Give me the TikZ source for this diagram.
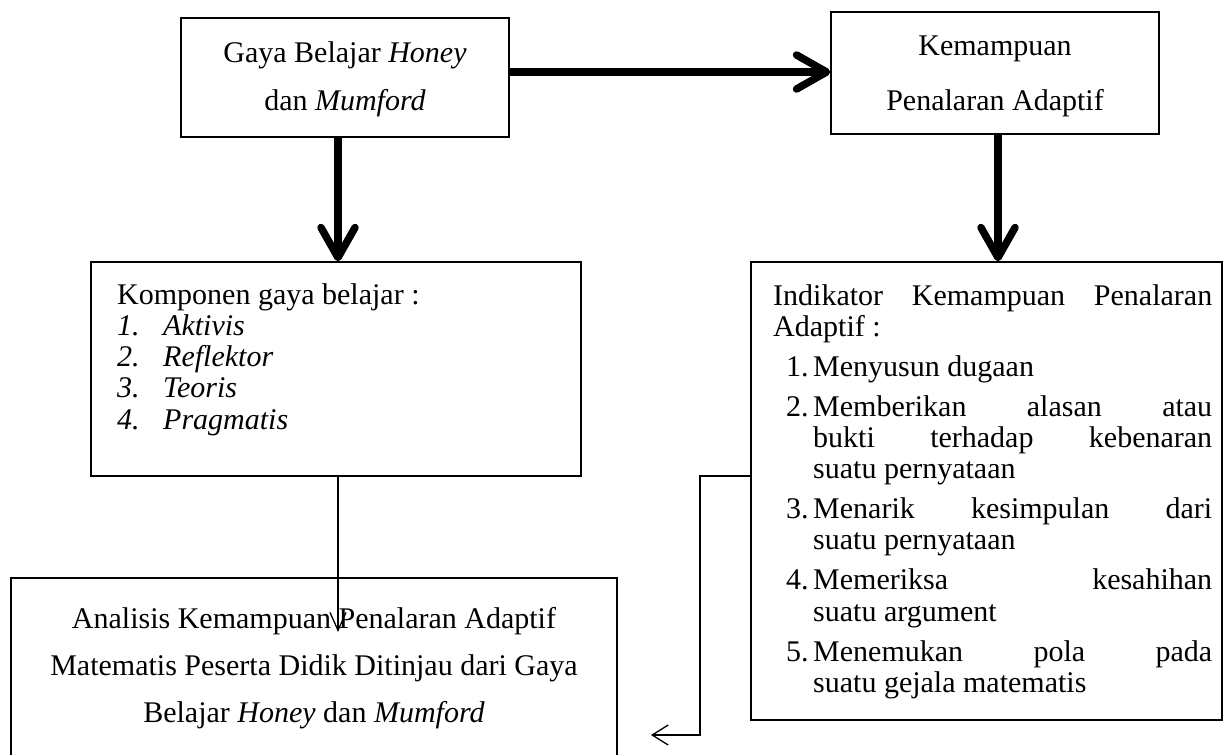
\documentclass[tikz,border=0pt]{standalone}
\usepackage{fontspec}
\setmainfont{Liberation Serif}
\usetikzlibrary{arrows.meta}
\begin{document}
\begin{tikzpicture}[x=1pt,y=-1pt,
  box/.style={draw, line width=1.4pt, inner sep=0pt, rectangle},
  txt/.style={inner sep=0pt, font=\fontsize{30}{31.3}\selectfont},
  ctxt/.style={inner sep=0pt, align=center},
  bigarrow/.style={line width=7.5pt, -{Straight Barb[round,length=30pt,width=34pt]}},
  smallarrow/.style={line width=1.3pt, -{Straight Barb[length=18pt,width=16pt]}},
  leftarrow/.style={line width=1.3pt, -{Straight Barb[length=16pt,width=20pt]}},
  conn/.style={line width=1.3pt}]
\useasboundingbox (0,0) rectangle (1232,755);
% boxes
\node[box, minimum width=328pt, minimum height=119pt] (b1) at (345,77.5) {};
\node[box, minimum width=328pt, minimum height=122pt] (b2) at (995,73) {};
\node[box, minimum width=490pt, minimum height=214pt] (b3) at (336,369) {};
\node[box, minimum width=471pt, minimum height=458pt] (b4) at (986.5,491) {};
\node[box, minimum width=606pt, minimum height=200pt] (b5) at (314,678) {};
% texts
\node[ctxt, font=\fontsize{30}{48}\selectfont] (t1) at (345,79) {Gaya Belajar \textit{Honey}\\dan \textit{Mumford}};
\node[ctxt, font=\fontsize{30}{55}\selectfont] (t2) at (995,76) {Kemampuan\\Penalaran Adaptif};
\node[ctxt, font=\fontsize{30}{47}\selectfont] (t5) at (314,668) {Analisis Kemampuan Penalaran Adaptif\\Matematis Peserta Didik Ditinjau dari Gaya\\Belajar \textit{Honey} dan \textit{Mumford}};
\node[txt, anchor=base west] (t3) at (117,304) {\begin{minipage}[t]{440pt}\raggedright
Komponen gaya belajar :\\
\textit{\makebox[46pt][l]{1.}Aktivis}\\
\textit{\makebox[46pt][l]{2.}Reflektor}\\
\textit{\makebox[46pt][l]{3.}Teoris}\\
\textit{\makebox[46pt][l]{4.}Pragmatis}
\end{minipage}};
\node[txt, anchor=base west] (t4) at (773,305) {\begin{minipage}[t]{440pt}\raggedright
\makebox[439pt][s]{Indikator Kemampuan Penalaran}\\
Adaptif :\\[8.6pt]
\hspace*{13pt}\makebox[27pt][l]{1.}Menyusun dugaan\\[8.6pt]
\hspace*{13pt}\makebox[27pt][l]{2.}\makebox[399pt][s]{Memberikan alasan atau}\\
\hspace*{40pt}\makebox[399pt][s]{bukti terhadap kebenaran}\\
\hspace*{40pt}suatu pernyataan\\[8.6pt]
\hspace*{13pt}\makebox[27pt][l]{3.}\makebox[399pt][s]{Menarik kesimpulan dari}\\
\hspace*{40pt}suatu pernyataan\\[8.6pt]
\hspace*{13pt}\makebox[27pt][l]{4.}\makebox[399pt][s]{Memeriksa kesahihan}\\
\hspace*{40pt}suatu argument\\[8.6pt]
\hspace*{13pt}\makebox[27pt][l]{5.}\makebox[399pt][s]{Menemukan pola pada}\\
\hspace*{40pt}suatu gejala matematis
\end{minipage}};
% connectors
\draw[bigarrow] ([yshift=5.5pt]b1.east) -- ([yshift=5.5pt]b1.east -| b2.west);
\draw[bigarrow] ([xshift=-7pt]b1.south) -- ([xshift=-7pt]b1.south |- b3.north);
\draw[bigarrow] ([xshift=3pt]b2.south) -- ([xshift=3pt]b2.south |- b4.north);
\coordinate (e1) at (338,632);
\draw[smallarrow] (b3.south -| e1) -- (e1);
\coordinate (k1) at (700,476);
\coordinate (e2) at (651,735);
\draw[conn, leftarrow] (b4.west |- k1) -- (k1) -- (k1 |- e2) -- (e2);
\end{tikzpicture}
\end{document}
